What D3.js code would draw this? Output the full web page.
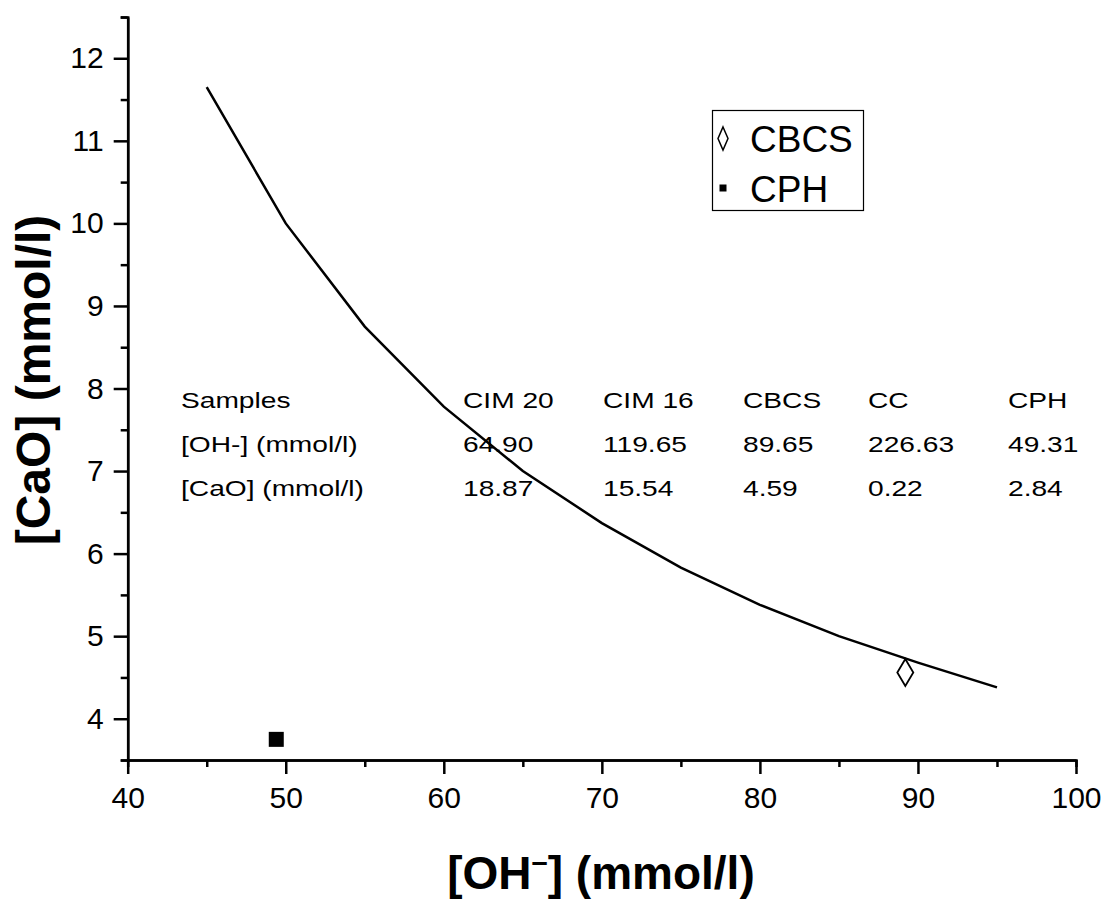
<!DOCTYPE html>
<html>
<head>
<meta charset="utf-8">
<script src="https://cdn.jsdelivr.net/npm/d3@7"></script>
<style>
  body { margin: 0; background: #fff; }
  text { font-family: Arial, "Liberation Sans", sans-serif; }
</style>
</head>
<body>
<div id="chart"></div>
<script>
// fitted curve, [OH-] vs [CaO]
const curveOH = [45, 50, 55, 60, 65, 70, 75, 80, 85, 90, 95]
const curveCaO = [11.65, 10.0, 8.75, 7.78, 7.0, 6.37, 5.83, 5.38, 5.0, 4.68, 4.38]

// measured samples
const sampleNames = ["CBCS", "CPH"]
const sampleOH = [89.2, 49.4]
const sampleCaO = [4.56, 3.75]

// table inside the plot
const tableHeader = ["Samples", "CIM 20", "CIM 16", "CBCS", "CC", "CPH"]
const tableOH = ["[OH-] (mmol/l)", "64.90", "119.65", "89.65", "226.63", "49.31"]
const tableCaO = ["[CaO] (mmol/l)", "18.87", "15.54", "4.59", "0.22", "2.84"]

const xTicks = [40, 50, 60, 70, 80, 90, 100]
const xMinor = [45, 55, 65, 75, 85, 95]
const yTicks = [4, 5, 6, 7, 8, 9, 10, 11, 12]
const yMinor = [3.5, 4.5, 5.5, 6.5, 7.5, 8.5, 9.5, 10.5, 11.5, 12.5]

const width = 1105
const height = 901
const mLeft = 127.7, mRight = 1076, mTop = 17, mBottom = 760

const svg = d3.select("#chart").append("svg")
  .attr("width", width)
  .attr("height", height)

const x = d3.scaleLinear().domain([40, 100]).range([mLeft, mRight])
const y = d3.scaleLinear().domain([3.5, 12.5]).range([mBottom, mTop])

function styleAxis(g) {
  g.selectAll("path.domain").attr("stroke", "#000").attr("stroke-width", 2.5)
  g.selectAll("line").attr("stroke", "#000").attr("stroke-width", 2.5)
  g.selectAll("text")
    .attr("font-size", 30)
    .attr("font-family", "Arial, 'Liberation Sans', sans-serif")
    .attr("fill", "#000")
}

// minor ticks
svg.append("g")
  .attr("transform", "translate(0," + mBottom + ")")
  .call(d3.axisBottom(x).tickValues(xMinor).tickSize(7).tickFormat(""))
  .call(styleAxis)
svg.append("g")
  .attr("transform", "translate(" + mLeft + ",0)")
  .call(d3.axisLeft(y).tickValues(yMinor).tickSize(7).tickFormat(""))
  .call(styleAxis)

// major ticks
svg.append("g")
  .attr("transform", "translate(0," + mBottom + ")")
  .call(d3.axisBottom(x).tickValues(xTicks).tickSizeInner(14).tickSizeOuter(0).tickPadding(13).tickFormat(d3.format("d")))
  .call(styleAxis)
svg.append("g")
  .attr("transform", "translate(" + mLeft + ",0)")
  .call(d3.axisLeft(y).tickValues(yTicks).tickSizeInner(14).tickSizeOuter(0).tickPadding(10).tickFormat(d3.format("d")))
  .call(styleAxis)

// curve
const line = d3.line()
  .x(d => x(d[0]))
  .y(d => y(d[1]))
svg.append("path")
  .datum(curveOH.map((v, i) => [v, curveCaO[i]]))
  .attr("d", line)
  .attr("fill", "none")
  .attr("stroke", "#000")
  .attr("stroke-width", 2.5)

// CBCS point: hollow diamond
svg.append("path")
  .attr("d", "M0,-13.5 L8,0 L0,13.5 L-8,0 Z")
  .attr("transform", "translate(" + x(sampleOH[0]) + "," + y(sampleCaO[0]) + ")")
  .attr("fill", "#fff")
  .attr("stroke", "#000")
  .attr("stroke-width", 1.8)

// CPH point: filled square
svg.append("rect")
  .attr("x", x(sampleOH[1]) - 7.5)
  .attr("y", y(sampleCaO[1]) - 7.5)
  .attr("width", 15)
  .attr("height", 15)
  .attr("fill", "#000")

// legend
const lg = svg.append("g")
lg.append("rect")
  .attr("x", 712.5).attr("y", 110.5)
  .attr("width", 151).attr("height", 100)
  .attr("fill", "none").attr("stroke", "#000").attr("stroke-width", 1.2)
lg.append("path")
  .attr("d", "M0,-11.5 L5,0 L0,11.5 L-5,0 Z")
  .attr("transform", "translate(723,138.5)")
  .attr("fill", "none").attr("stroke", "#000").attr("stroke-width", 1.5)
lg.append("rect")
  .attr("x", 719.5).attr("y", 184.5).attr("width", 7).attr("height", 7)
  .attr("fill", "#000")
lg.selectAll("text.lab")
  .data(sampleNames)
  .enter().append("text")
  .attr("class", "lab")
  .attr("x", 750)
  .attr("y", (d, i) => 151.5 + i * 50)
  .attr("font-size", 37)
  .text(d => d)

// table (text is stretched sideways, like the embedded sheet)
const colX = [181, 463, 603, 743, 868, 1008]
const rowY = [408, 452, 496]
const sx = 1.28
const tbl = svg.append("g")
;[tableHeader, tableOH, tableCaO].forEach((row, r) => {
  tbl.selectAll("text.r" + r)
    .data(row)
    .enter().append("text")
    .attr("class", "r" + r)
    .attr("transform", (d, i) => "translate(" + colX[i] + "," + rowY[r] + ") scale(" + sx + ",1)")
    .attr("font-size", 22)
    .text(d => d)
})

// axis titles
const xt = svg.append("text")
  .attr("x", 601)
  .attr("y", 889)
  .attr("text-anchor", "middle")
  .attr("font-size", 46)
  .attr("font-weight", "bold")
xt.append("tspan").text("[OH")
xt.append("tspan").attr("dy", -17).attr("font-size", 29).text("\u2013")
xt.append("tspan").attr("dy", 17).text("] (mmol/l)")

svg.append("text")
  .attr("transform", "translate(50,380) rotate(-90)")
  .attr("text-anchor", "middle")
  .attr("font-size", 48)
  .attr("font-weight", "bold")
  .text("[CaO] (mmol/l)")
</script>
</body>
</html>
